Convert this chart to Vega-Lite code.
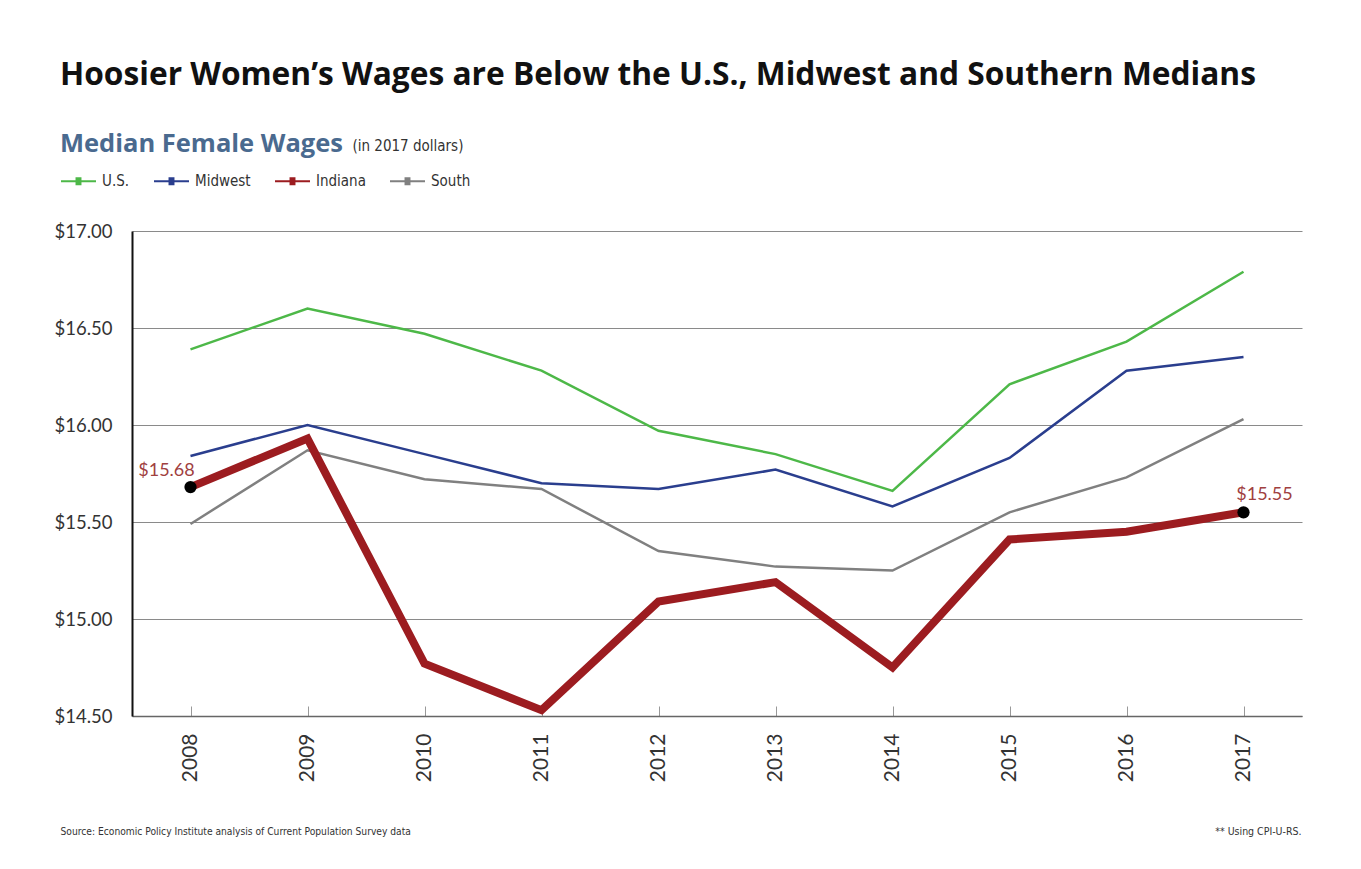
{
  "$schema": "https://vega.github.io/schema/vega-lite/v6.json",
  "width": 1170,
  "height": 485,
  "autosize": {"type": "none"},
  "padding": {"left": 132, "top": 231, "right": 59, "bottom": 153},
  "background": "white",
  "config": {"view": {"stroke": null}, "font": "Lato"},
  "title": {
    "text": "Hoosier Women’s Wages are Below the U.S., Midwest and Southern Medians",
    "anchor": "start",
    "frame": "group",
    "dx": -72,
    "offset": 40,
    "fontSize": 31.7,
    "font": "Open Sans",
    "fontWeight": "bold",
    "color": "#111111"
  },
  "data": {
    "values": [
      {"year": 2008, "region": "U.S.", "wage": 16.39},
      {"year": 2009, "region": "U.S.", "wage": 16.60},
      {"year": 2010, "region": "U.S.", "wage": 16.47},
      {"year": 2011, "region": "U.S.", "wage": 16.28},
      {"year": 2012, "region": "U.S.", "wage": 15.97},
      {"year": 2013, "region": "U.S.", "wage": 15.85},
      {"year": 2014, "region": "U.S.", "wage": 15.66},
      {"year": 2015, "region": "U.S.", "wage": 16.21},
      {"year": 2016, "region": "U.S.", "wage": 16.43},
      {"year": 2017, "region": "U.S.", "wage": 16.79},
      {"year": 2008, "region": "Midwest", "wage": 15.84},
      {"year": 2009, "region": "Midwest", "wage": 16.00},
      {"year": 2010, "region": "Midwest", "wage": 15.85},
      {"year": 2011, "region": "Midwest", "wage": 15.70},
      {"year": 2012, "region": "Midwest", "wage": 15.67},
      {"year": 2013, "region": "Midwest", "wage": 15.77},
      {"year": 2014, "region": "Midwest", "wage": 15.58},
      {"year": 2015, "region": "Midwest", "wage": 15.83},
      {"year": 2016, "region": "Midwest", "wage": 16.28},
      {"year": 2017, "region": "Midwest", "wage": 16.35},
      {"year": 2008, "region": "South", "wage": 15.49},
      {"year": 2009, "region": "South", "wage": 15.87},
      {"year": 2010, "region": "South", "wage": 15.72},
      {"year": 2011, "region": "South", "wage": 15.67},
      {"year": 2012, "region": "South", "wage": 15.35},
      {"year": 2013, "region": "South", "wage": 15.27},
      {"year": 2014, "region": "South", "wage": 15.25},
      {"year": 2015, "region": "South", "wage": 15.55},
      {"year": 2016, "region": "South", "wage": 15.73},
      {"year": 2017, "region": "South", "wage": 16.03},
      {"year": 2008, "region": "Indiana", "wage": 15.68},
      {"year": 2009, "region": "Indiana", "wage": 15.93},
      {"year": 2010, "region": "Indiana", "wage": 14.77},
      {"year": 2011, "region": "Indiana", "wage": 14.53},
      {"year": 2012, "region": "Indiana", "wage": 15.09},
      {"year": 2013, "region": "Indiana", "wage": 15.19},
      {"year": 2014, "region": "Indiana", "wage": 14.75},
      {"year": 2015, "region": "Indiana", "wage": 15.41},
      {"year": 2016, "region": "Indiana", "wage": 15.45},
      {"year": 2017, "region": "Indiana", "wage": 15.55}
    ]
  },
  "resolve": {"axis": {"y": "independent"}},
  "layer": [
    {
      "transform": [{"filter": "datum.region !== 'Indiana'"}],
      "mark": {"type": "line", "strokeWidth": 2.5},
      "encoding": {
        "x": {
          "field": "year", "type": "ordinal",
          "scale": {"type": "point", "padding": 0.5},
          "axis": {
            "labelAngle": -90, "labelFontSize": 21, "labelFont": "Lato", "labelColor": "#333333",
            "labelPadding": 27, "tickSize": -10, "tickColor": "#999999", "tickWidth": 1,
            "domainColor": "#666666", "domainWidth": 1.5, "grid": false,
            "title": "Source: Economic Policy Institute analysis of Current Population Survey data",
            "titleX": -72, "titleY": 118, "titleAlign": "left", "titleAnchor": "start", "titleBaseline": "alphabetic",
            "titleFont": "DejaVu Sans Condensed, Roboto Condensed, Open Sans Condensed, sans-serif", "titleFontSize": 10.2, "titleFontWeight": "normal", "titleColor": "#333333"
          }
        },
        "y": {
          "field": "wage", "type": "quantitative",
          "scale": {"domain": [14.5, 17], "nice": false, "zero": false},
          "axis": {
            "values": [14.5, 15, 15.5, 16, 16.5, 17], "format": "$.2f",
            "labelFontSize": 18.5, "labelFont": "Lato", "labelColor": "#333333", "labelPadding": 20,
            "ticks": false, "domainColor": "#111111", "domainWidth": 2,
            "grid": true, "gridColor": "#8a8a8a", "gridWidth": 1,
            "title": "(in 2017 dollars)", "titleAngle": 0, "titleAlign": "left", "titleBaseline": "alphabetic",
            "titleX": 220, "titleY": -81, "titleFont": "DejaVu Sans Condensed, Roboto Condensed, Open Sans Condensed, sans-serif", "titleFontSize": 15,
            "titleFontWeight": "normal", "titleColor": "#333333"
          }
        },
        "color": {
          "field": "region", "type": "nominal",
          "scale": {"domain": ["U.S.", "Midwest", "Indiana", "South"], "range": ["#4db848", "#2a3e8e", "#9c1c20", "#808080"]},
          "legend": {
            "orient": "none", "legendX": -72, "legendY": -99, "direction": "horizontal",
            "title": "Median Female Wages", "titleFont": "Open Sans", "titleFontSize": 25.5, "titleFontWeight": "bold",
            "titleColor": "#4a6a8f", "titlePadding": 5, "titleLimit": 500,
            "labelFont": "DejaVu Sans Condensed, Roboto Condensed, Open Sans Condensed, sans-serif", "labelFontSize": 15, "labelColor": "#333333", "labelOffset": 5,
            "symbolType": "M-1,0H1M-0.17,-0.17H0.17M-0.17,-0.085H0.17M-0.17,0H0.17M-0.17,0.085H0.17M-0.17,0.17H0.17",
            "symbolSize": 1225, "symbolStrokeWidth": 2, "columnPadding": 20,
            "encode": {"symbols": {"update": {"strokeWidth": {"value": 2}}}}
          }
        }
      }
    },
    {
      "transform": [{"filter": "datum.region === 'Indiana'"}],
      "mark": {"type": "line", "strokeWidth": 8},
      "encoding": {
        "x": {"field": "year", "type": "ordinal"},
        "y": {
          "field": "wage", "type": "quantitative",
          "axis": {
            "orient": "right", "labels": false, "ticks": false, "domain": false, "grid": false,
            "title": "** Using CPI-U-RS.", "titleAngle": 0, "titleAlign": "right", "titleBaseline": "alphabetic",
            "titleX": -1, "titleY": 603, "titleFont": "DejaVu Sans Condensed, Roboto Condensed, Open Sans Condensed, sans-serif", "titleFontSize": 10.5,
            "titleFontWeight": "normal", "titleColor": "#333333"
          }
        },
        "color": {"field": "region", "type": "nominal"}
      }
    },
    {
      "transform": [{"filter": "datum.region === 'Indiana' && (datum.year === 2008 || datum.year === 2017)"}],
      "mark": {"type": "circle", "size": 150, "color": "#000000", "opacity": 1},
      "encoding": {
        "x": {"field": "year", "type": "ordinal"},
        "y": {"field": "wage", "type": "quantitative", "axis": null}
      }
    },
    {
      "transform": [{"filter": "datum.region === 'Indiana' && datum.year === 2008"}],
      "mark": {"type": "text", "dx": -24, "dy": -16, "fontSize": 18, "font": "Lato", "color": "#a0403f"},
      "encoding": {
        "x": {"field": "year", "type": "ordinal"},
        "y": {"field": "wage", "type": "quantitative", "axis": null},
        "text": {"field": "wage", "type": "quantitative", "format": "$.2f"}
      }
    },
    {
      "transform": [{"filter": "datum.region === 'Indiana' && datum.year === 2017"}],
      "mark": {"type": "text", "dx": 21, "dy": -17, "fontSize": 18, "font": "Lato", "color": "#a0403f"},
      "encoding": {
        "x": {"field": "year", "type": "ordinal"},
        "y": {"field": "wage", "type": "quantitative", "axis": null},
        "text": {"field": "wage", "type": "quantitative", "format": "$.2f"}
      }
    }
  ]
}
